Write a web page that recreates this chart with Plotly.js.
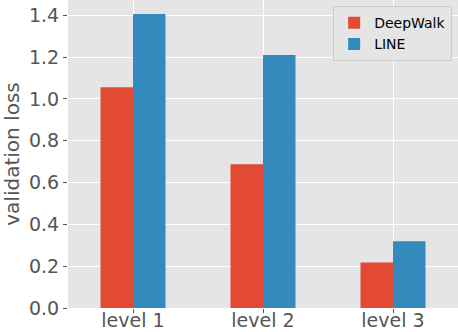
<!DOCTYPE html>
<html>
<head>
<meta charset="utf-8">
<script src="https://cdn.plot.ly/plotly-3.0.1.min.js"></script>
<style>
  body { margin: 0; padding: 0; background: #fff; }
  #chart { width: 458px; height: 332px; }
</style>
</head>
<body>
<div id="chart"></div>
<script>
// values
var levels = ['level 1', 'level 2', 'level 3'];
var deepwalk = [1.056, 0.688, 0.218];
var line = [1.406, 1.21, 0.319];
var yTicks = [0, 0.2, 0.4, 0.6, 0.8, 1.0, 1.2, 1.4];

var data = [
  {type: 'bar', name: 'DeepWalk', x: levels, y: deepwalk, marker: {color: '#E24A33', line: {width: 0}}},
  {type: 'bar', name: 'LINE', x: levels, y: line, marker: {color: '#348ABD', line: {width: 0}}}
];

var layout = {
  width: 458,
  height: 332,
  margin: {l: 68, r: 0, t: 0, b: 24},
  paper_bgcolor: '#ffffff',
  plot_bgcolor: '#E5E5E5',
  barmode: 'group',
  bargap: 0.5,
  bargroupgap: 0,
  font: {family: 'DejaVu Sans', color: '#555555'},
  xaxis: {
    range: [-0.5, 2.5],
    showgrid: true,
    gridcolor: '#ffffff',
    gridwidth: 1,
    zeroline: false,
    showline: false,
    ticks: 'outside',
    ticklen: 4,
    tickcolor: '#555555',
    tickfont: {size: 19, color: '#555555'},
    ticklabelstandoff: -9,
    automargin: false
  },
  yaxis: {
    range: [0, 1.473],
    tickvals: yTicks,
    tickformat: '.1f',
    showgrid: true,
    gridcolor: '#ffffff',
    gridwidth: 1,
    zeroline: false,
    showline: false,
    ticks: 'outside',
    ticklen: 4,
    tickcolor: '#555555',
    tickfont: {size: 19, color: '#555555'},
    title: {text: 'validation loss', font: {size: 20, color: '#555555'}, standoff: 10},
    automargin: false
  },
  legend: {
    x: 0.985,
    y: 0.98,
    xanchor: 'right',
    yanchor: 'top',
    bgcolor: '#E5E5E5',
    bordercolor: '#CCCCCC',
    borderwidth: 1,
    font: {size: 14, color: '#000000'},
    tracegroupgap: 0
  },
  showlegend: true
};

Plotly.newPlot('chart', data, layout, {displayModeBar: false});
</script>
</body>
</html>
